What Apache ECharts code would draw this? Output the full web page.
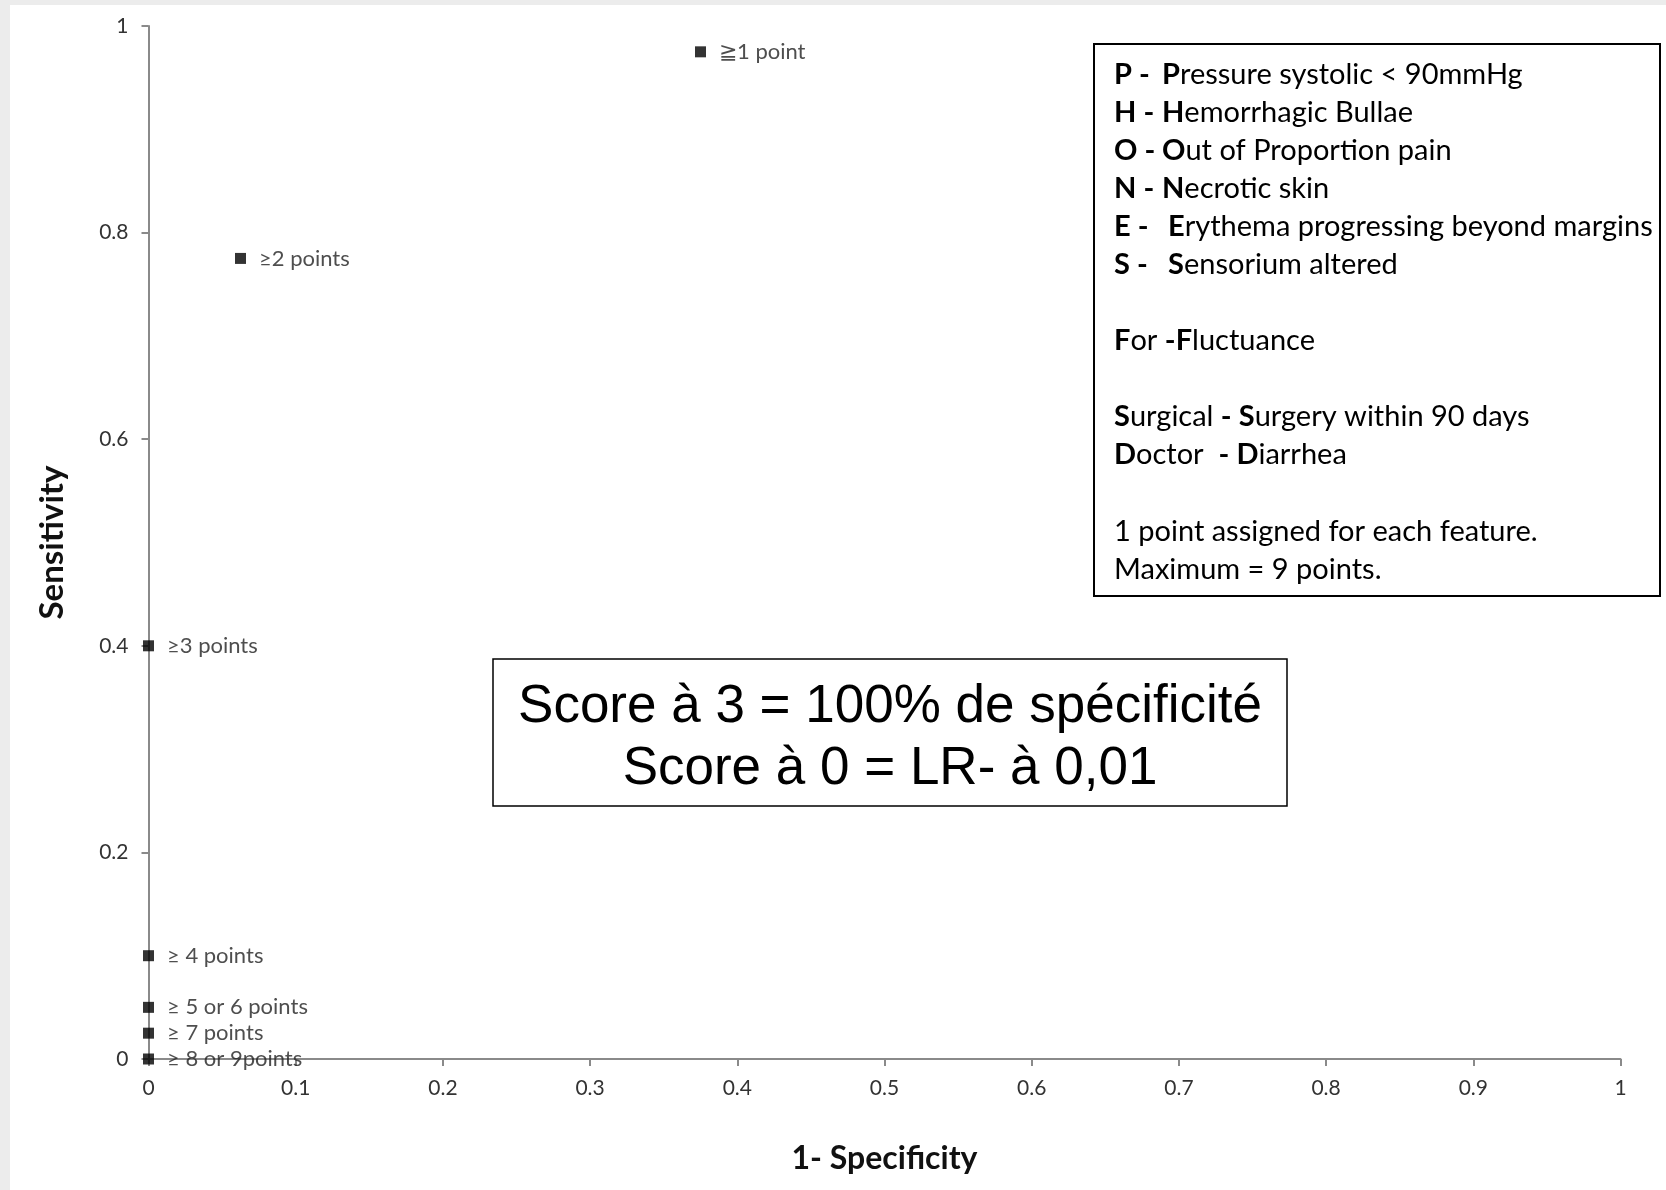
<!DOCTYPE html>
<html>
<head>
<meta charset="utf-8">
<script src="https://cdn.jsdelivr.net/npm/echarts@6/dist/echarts.min.js"></script>
<style>
html,body{margin:0;padding:0;background:#ececec;}
#chart{width:1666px;height:1190px;}
</style>
</head>
<body>
<div id="chart"></div>
<script>
// ---- data ----
const pointLabels = ['≧1 point', '≥2 points', '≥3 points', '≥ 4 points', '≥ 5 or 6 points', '≥ 7 points', '≥ 8 or 9points'];
const oneMinusSpecificity = [0.375, 0.0625, 0, 0, 0, 0, 0];
const sensitivity = [0.975, 0.775, 0.4, 0.1, 0.05, 0.025, 0];

const legendKeys = ['P -', 'H -', 'O -', 'N -', 'E -', 'S -'];
const legendInitials = ['P', 'H', 'O', 'N', 'E', 'S'];
const legendRests = ['ressure systolic < 90mmHg', 'emorrhagic Bullae', 'ut of Proportion pain', 'ecrotic skin', 'rythema progressing beyond margins', 'ensorium altered'];
const noteLines = ['Score à 3 = 100% de spécificité', 'Score à 0 = LR- à 0,01'];

const chart = echarts.init(document.getElementById('chart'));
const FONT = 'Lato, "Open Sans", sans-serif';
const LF = 29;

const points = oneMinusSpecificity.map((x, i) => ({ value: [x, sensitivity[i]], label: { formatter: pointLabels[i] } }));

const graphics = [
  { type: 'rect', z: -10, silent: true, shape: { x: 10, y: 5, width: 1656, height: 1185 }, style: { fill: '#ffffff' } },
  { type: 'rect', z: 10, shape: { x: 1094, y: 44, width: 566, height: 552 }, style: { fill: '#fff', stroke: '#000', lineWidth: 2 } },
  { type: 'rect', z: 10, shape: { x: 493, y: 659, width: 794, height: 147 }, style: { fill: '#fff', stroke: '#000', lineWidth: 1.5 } }
];
const rich = { b: { font: 'bold ' + LF + 'px ' + FONT, fill: '#000' }, n: { font: LF + 'px ' + FONT, fill: '#000' } };
const lineYs = [75, 113, 151, 189, 227, 265];
legendKeys.forEach((k, i) => {
  graphics.push({ type: 'text', z: 11, x: 1114, y: lineYs[i],
    style: { text: k, font: 'bold ' + LF + 'px ' + FONT, fill: '#000', verticalAlign: 'middle' } });
  graphics.push({ type: 'text', z: 11, x: i >= 4 ? 1168 : 1162, y: lineYs[i],
    style: { text: '{b|' + legendInitials[i] + '}{n|' + legendRests[i] + '}', rich: rich, verticalAlign: 'middle' } });
});
const extra = [
  [341, '{b|F}{n|or }{b|-F}{n|luctuance}'],
  [417, '{b|S}{n|urgical }{b|- S}{n|urgery within 90 days}'],
  [455, '{b|D}{n|octor  }{b|- D}{n|iarrhea}'],
  [532, '{n|1 point assigned for each feature.}'],
  [570, '{n|Maximum = 9 points.}']
];
extra.forEach(e => {
  graphics.push({ type: 'text', z: 11, x: 1114, y: e[0],
    style: { text: e[1], rich: rich, verticalAlign: 'middle' } });
});
graphics.push({ type: 'text', z: 11, x: 890, y: 707,
  style: { text: noteLines[0], font: '53px "Liberation Sans", Arial, sans-serif', fill: '#000', align: 'center', verticalAlign: 'middle' } });
graphics.push({ type: 'text', z: 11, x: 890, y: 769,
  style: { text: noteLines[1], font: '53px "Liberation Sans", Arial, sans-serif', fill: '#000', align: 'center', verticalAlign: 'middle' } });

chart.setOption({
  backgroundColor: 'transparent',
  animation: false,
  grid: { left: 148.5, right: 45.5, top: 26, bottom: 131, containLabel: false },
  xAxis: {
    type: 'value', min: 0, max: 1, interval: 0.1,
    name: '1- Specificity', nameLocation: 'middle', nameGap: 84,
    nameTextStyle: { fontFamily: FONT, fontWeight: 'bold', fontSize: 32, color: '#111' },
    axisLine: { show: true, onZero: false, lineStyle: { color: '#8a8a8a', width: 2 } },
    axisTick: { show: true, length: 7, lineStyle: { color: '#8a8a8a', width: 2 } },
    axisLabel: { fontFamily: FONT, fontSize: 21, color: '#333', margin: 19 },
    splitLine: { show: false }
  },
  yAxis: {
    type: 'value', min: 0, max: 1, interval: 0.2,
    name: 'Sensitivity', nameLocation: 'middle', nameGap: 80, nameRotate: 90,
    nameTextStyle: { fontFamily: FONT, fontWeight: 'bold', fontSize: 33, color: '#111' },
    axisLine: { show: true, onZero: false, lineStyle: { color: '#8a8a8a', width: 2 } },
    axisTick: { show: true, length: 7, lineStyle: { color: '#8a8a8a', width: 2 } },
    axisLabel: { fontFamily: FONT, fontSize: 21, color: '#333', margin: 20 },
    splitLine: { show: false }
  },
  series: [{
    type: 'scatter',
    symbol: 'rect', symbolSize: 11,
    itemStyle: { color: '#000' },
    label: { show: true, position: 'right', distance: 13, fontFamily: FONT, fontSize: 22, color: '#222' },
    data: points
  }],
  graphic: graphics
});
</script>
</body>
</html>
